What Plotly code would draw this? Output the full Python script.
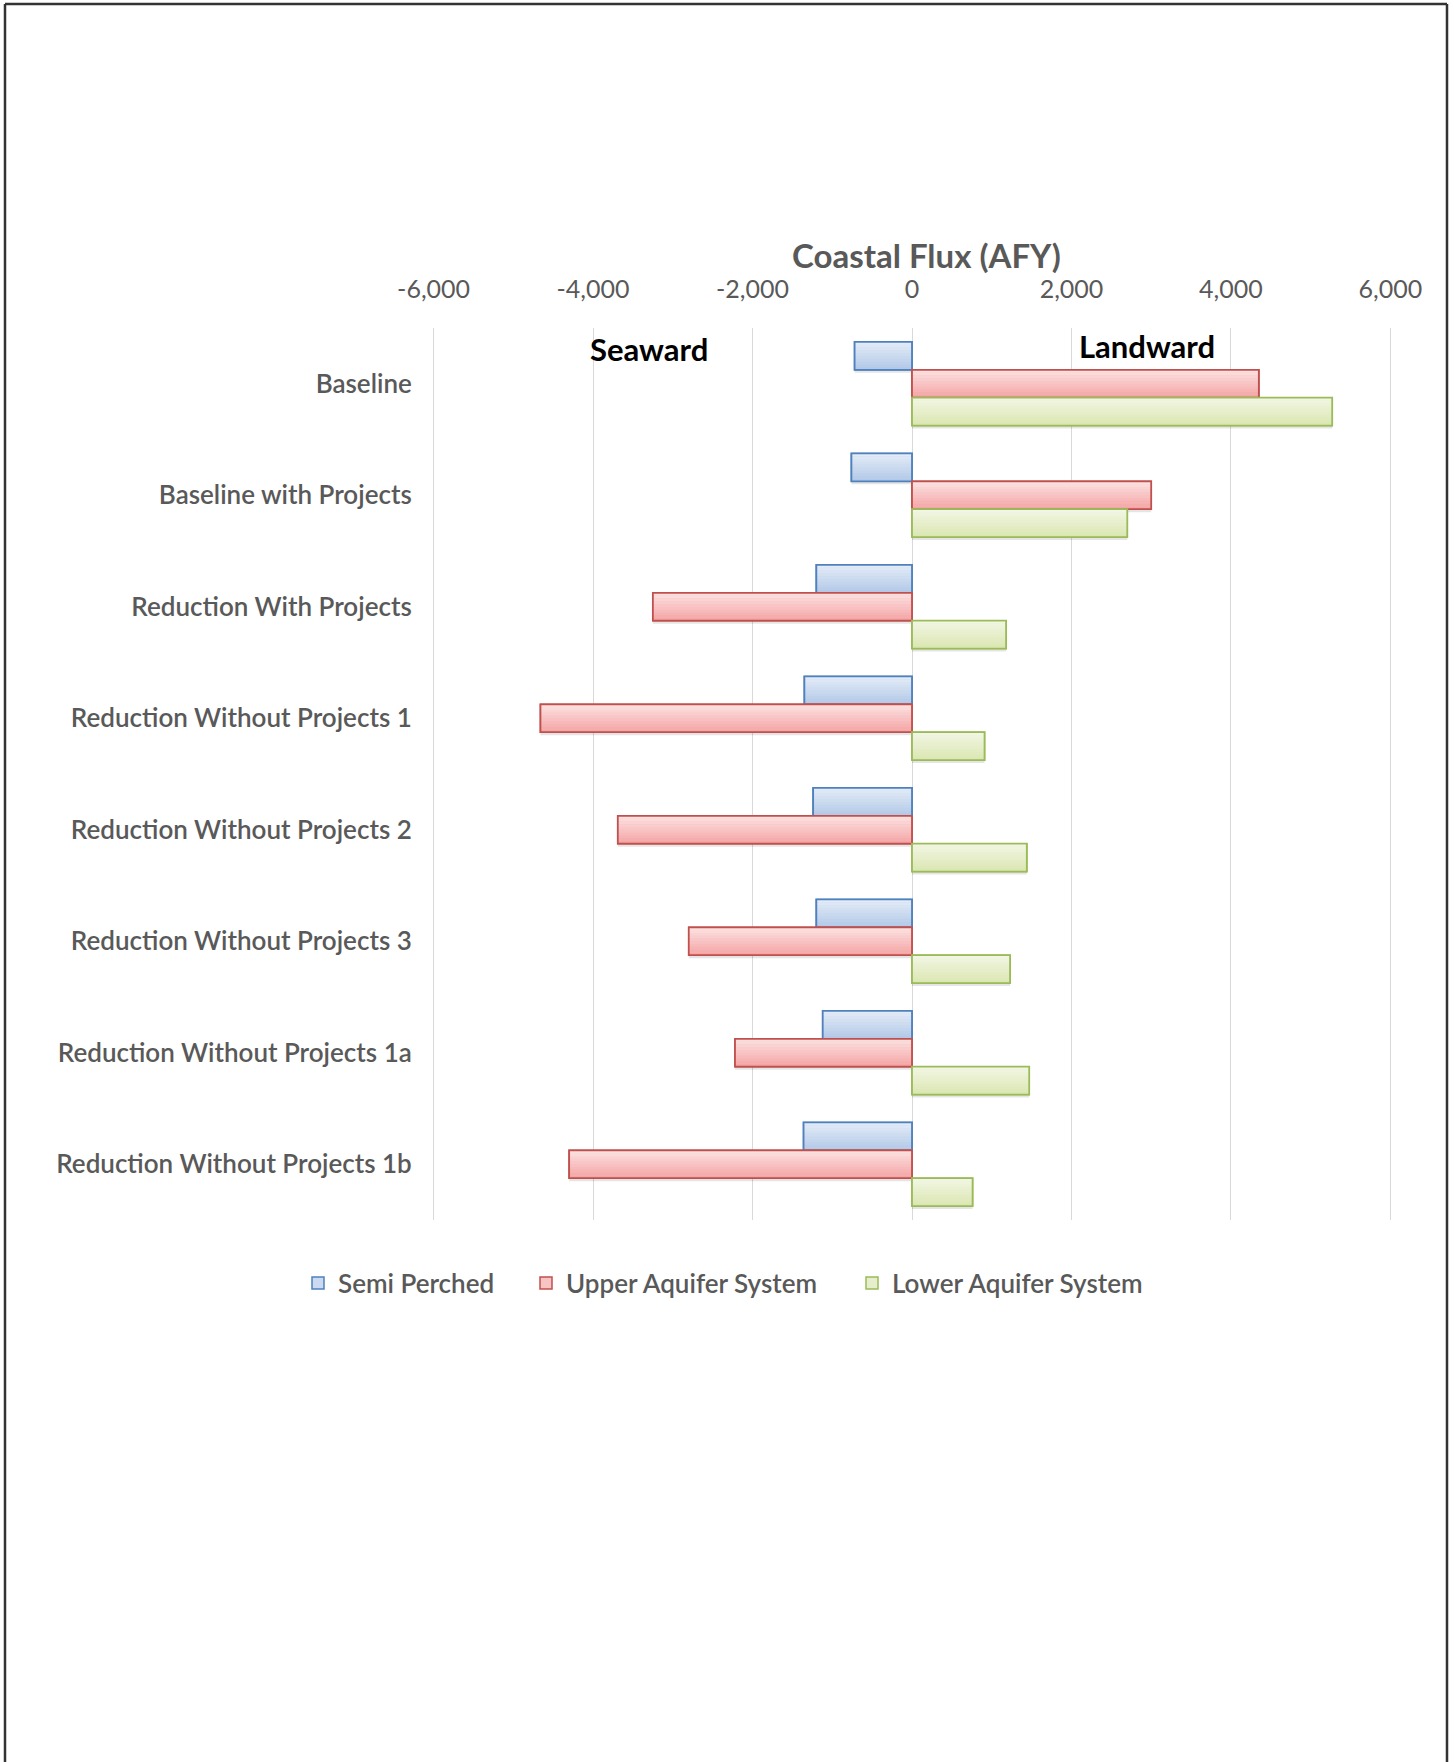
import plotly.graph_objects as go

# Coastal flux by scenario (acre-feet per year); negative = seaward, positive = landward
scenarios = [
    "Baseline",
    "Baseline with Projects",
    "Reduction With Projects",
    "Reduction Without Projects 1",
    "Reduction Without Projects 2",
    "Reduction Without Projects 3",
    "Reduction Without Projects 1a",
    "Reduction Without Projects 1b",
]
semi_perched = [-720, -760, -1200, -1350, -1240, -1200, -1120, -1360]
upper_aquifer = [4350, 3000, -3250, -4660, -3690, -2800, -2220, -4300]
lower_aquifer = [5270, 2700, 1180, 910, 1440, 1230, 1470, 760]

tick_values = [-6000, -4000, -2000, 0, 2000, 4000, 6000]
tick_labels = ["-6,000", "-4,000", "-2,000", "0", "2,000", "4,000", "6,000"]

W, H = 1454, 1762
ML, MR, MT, MB = 432, 62, 328, 542
PW, PH = W - ML - MR, H - MT - MB

FONT = "Lato"
GREY = "#595959"


def px_x(px):
    return (px - ML) / PW


def px_y(py):
    return (MT + PH - py) / PH


series = [
    # name, values, border, gradient top rgb, gradient bottom rgb, slot offset, legend id, legend left px
    ("Semi Perched", semi_perched, "#4f81bd", (226, 235, 247), (180, 201, 232), -0.375, "legend", 298),
    ("Upper Aquifer System", upper_aquifer, "#c0504d", (252, 224, 224), (244, 166, 166), -0.125, "legend2", 526),
    ("Lower Aquifer System", lower_aquifer, "#9bbb59", (241, 246, 228), (219, 231, 178), 0.125, "legend3", 852),
]
BAR_W = 0.25
N_STRIPS = 10
px_cat = 1.0 / (PH / len(scenarios))  # one pixel in category units


def mix(a, b, t):
    return "rgb(%d,%d,%d)" % tuple(round(a[i] + (b[i] - a[i]) * t) for i in range(3))


fig = go.Figure()
legend_layout = {}

for name, vals, border, top, bot, off, leg, leg_px in series:
    # soft drop shadow
    fig.add_trace(go.Bar(
        x=vals, y=scenarios, orientation="h", offset=off + 3 * px_cat, width=BAR_W,
        marker=dict(color="rgba(0,0,0,0.10)", line=dict(width=0)),
        showlegend=False, hoverinfo="skip",
    ))
    # legend-bearing base bar
    fig.add_trace(go.Bar(
        x=vals, y=scenarios, orientation="h", offset=off, width=BAR_W, name=name,
        legend=leg,
        marker=dict(color=mix(top, bot, 0.5), line=dict(color=border, width=1.5)),
    ))
    # vertical gradient built from thin strips
    sw = BAR_W / N_STRIPS
    for k in range(N_STRIPS):
        fig.add_trace(go.Bar(
            x=vals, y=scenarios, orientation="h", offset=off + k * sw, width=sw * 1.05,
            marker=dict(color=mix(top, bot, k / (N_STRIPS - 1)), line=dict(width=0)),
            showlegend=False, hoverinfo="skip",
        ))
    # crisp outline on top
    fig.add_trace(go.Bar(
        x=vals, y=scenarios, orientation="h", offset=off, width=BAR_W,
        marker=dict(color="rgba(0,0,0,0)", line=dict(color=border, width=1.8)),
        showlegend=False, hoverinfo="skip",
    ))
    legend_layout[leg] = dict(
        orientation="h", x=px_x(leg_px), xanchor="left",
        y=px_y(1283), yanchor="middle",
        font=dict(family=FONT, size=26, color=GREY, weight=600),
        itemwidth=30, bgcolor="rgba(0,0,0,0)", borderwidth=0,
    )

fig.update_layout(
    width=W, height=H,
    margin=dict(l=ML, r=MR, t=MT, b=MB, pad=0),
    paper_bgcolor="white", plot_bgcolor="white",
    barmode="overlay",
    font=dict(family=FONT, color=GREY, size=25),
    xaxis=dict(
        side="top", range=[-6020, 6020], tickvals=tick_values, ticktext=tick_labels,
        showgrid=True, gridcolor="#d9d9d9", gridwidth=1.3, zeroline=False, showline=False,
        ticks="outside", ticklen=19, tickcolor="rgba(0,0,0,0)",
        tickfont=dict(family=FONT, size=25, color=GREY),
    ),
    yaxis=dict(
        type="category", categoryorder="array", categoryarray=scenarios,
        autorange="reversed", showgrid=False, zeroline=False, showline=False,
        ticks="outside", ticklen=14, tickcolor="rgba(0,0,0,0)",
        tickfont=dict(family=FONT, size=26, color=GREY, weight=600),
    ),
    showlegend=True,
    annotations=[
        dict(text="Coastal Flux (AFY)", xref="paper", yref="paper",
             x=px_x(926), y=px_y(255), showarrow=False,
             xanchor="center", yanchor="middle",
             font=dict(family=FONT, size=33, color=GREY, weight=700)),
        dict(text="<b>Seaward</b>", xref="x", yref="paper", x=-3300,
             y=px_y(349), showarrow=False, xanchor="center", yanchor="middle",
             font=dict(family=FONT, size=31, color="black")),
        dict(text="<b>Landward</b>", xref="x", yref="paper", x=2950,
             y=px_y(346), showarrow=False, xanchor="center", yanchor="middle",
             font=dict(family=FONT, size=31, color="black")),
    ],
    **legend_layout,
)

# page frame
x0, x1 = px_x(5), px_x(1447)
y_top, y_bot = px_y(4), px_y(1775)
frame = dict(type="line", xref="paper", yref="paper", line=dict(color="#333333", width=2.5))
fig.update_layout(shapes=[
    dict(frame, x0=x0, x1=x1, y0=y_top, y1=y_top),
    dict(frame, x0=x0, x1=x0, y0=y_top, y1=y_bot),
    dict(frame, x0=x1, x1=x1, y0=y_top, y1=y_bot),
])

fig.write_html("out.html")
